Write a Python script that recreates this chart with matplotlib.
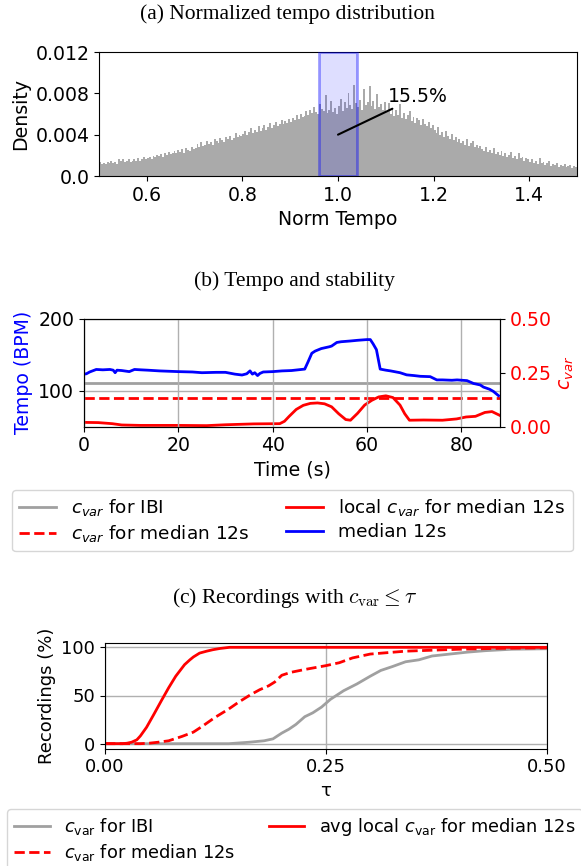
import numpy as np
import matplotlib
matplotlib.use("Agg")
import matplotlib.pyplot as plt

# ---------------- data ----------------
# (a) histogram of normalized tempo: 250 bins over [0.5, 1.5], density in units of 1e-3
hist_lo, hist_hi = 0.5, 1.5
hist_density_e3 = [
    1.4, 1.2, 1.3, 1.2, 1.4, 1.3, 1.5, 1.3, 1.4, 1.2, 1.6, 1.5, 1.6, 1.4, 1.5, 1.6, 1.4, 1.5, 1.6, 1.5, 1.7, 1.5, 1.6, 1.8, 1.6,
    1.7, 1.8, 1.6, 1.9, 1.8, 2.0, 1.9, 2.1, 1.8, 2.2, 2.0, 2.3, 2.1, 2.2, 2.4, 2.2, 2.5, 2.3, 2.6, 2.2, 2.7, 2.5, 2.4, 2.8, 2.6,
    2.7, 3.1, 2.8, 3.3, 2.9, 3.0, 3.4, 3.1, 3.3, 3.0, 3.6, 3.4, 3.2, 3.7, 3.5, 3.3, 3.8, 3.6, 3.9, 3.5, 3.7, 4.2, 3.8, 4.0, 3.9,
    4.1, 4.4, 4.0, 4.3, 4.6, 4.2, 4.5, 4.3, 4.8, 4.4, 4.6, 4.9, 4.5, 4.7, 5.1, 4.6, 4.9, 5.2, 4.8, 5.0, 5.4, 5.0, 5.3, 5.1, 5.5,
    5.2, 5.6, 5.4, 5.9, 5.5, 6.0, 5.7, 5.8, 6.3, 5.9, 6.4, 6.1, 6.7, 6.2, 6.0, 7.0, 6.5, 6.3, 7.8, 6.1, 6.4, 7.3, 6.2, 6.6, 6.0,
    6.8, 7.5, 6.3, 7.2, 6.6, 8.0, 6.9, 6.5, 8.8, 7.1, 6.7, 7.4, 6.4, 8.4, 6.9, 7.2, 8.7, 6.8, 7.3, 6.5, 7.9, 6.7, 7.0, 6.4, 7.2,
    6.3, 7.1, 6.0, 6.6, 5.8, 6.4, 5.9, 7.0, 5.6, 6.1, 5.5, 5.9, 6.3, 5.3, 5.7, 5.1, 5.6, 5.4, 4.9, 5.5, 5.0, 4.8, 5.2, 4.6, 4.9,
    4.5, 4.2, 4.7, 4.0, 4.3, 3.8, 4.4, 3.9, 3.6, 4.1, 3.5, 3.8, 3.3, 3.6, 3.2, 3.4, 3.0, 3.6, 2.9, 3.2, 3.4, 2.8, 3.0, 2.7, 2.9,
    2.6, 2.4, 2.8, 2.3, 2.5, 2.2, 2.7, 2.1, 2.3, 2.0, 2.4, 1.9, 2.2, 1.8, 2.0, 2.3, 1.7, 1.9, 1.6, 2.2, 1.7, 1.8, 1.5, 1.7, 1.6,
    1.4, 1.6, 1.3, 1.5, 1.2, 1.7, 1.3, 1.4, 1.1, 1.3, 1.5, 1.0, 1.2, 1.1, 1.3, 0.9, 1.1, 1.0, 1.2, 0.9, 1.0, 1.1, 0.8, 1.0, 0.9,
]
span_lo, span_hi = 0.96, 1.04
span_label = "15.5%"

# (b) tempo and stability over time
tempo_time = [0, 0.5, 1.2, 2, 2.6, 4, 5.5, 6.2, 6.6, 7, 8, 9.6, 10.7, 12, 13.5, 16, 18, 20, 23, 25, 28, 30, 32,
              33.5, 34.5, 35.2, 35.7, 36.2, 36.8, 37.3, 38, 40, 42, 44, 46.8, 47.5, 48.3, 49, 50.3, 52, 52.5,
              53.6, 54.5, 56.4, 58, 60, 60.7, 61.3, 62, 62.8, 64, 65, 67, 68.4, 70, 71.3, 73.4, 74.8, 76, 78,
              79.1, 81.2, 82.6, 84, 84.7, 86, 86.8, 87.9]
tempo_bpm = [123, 123.5, 126, 128, 129.5, 129, 129.5, 128.5, 125, 128.5, 128, 126.5, 129.5, 129, 128.5, 127.5,
             127, 126.5, 126, 125, 125.5, 125.5, 123, 121.8, 123.5, 127.5, 123, 125, 121, 124, 126, 126.5, 127.5,
             128, 130, 140, 152, 155, 158.5, 161, 162, 167, 168, 169, 170, 171, 171, 165, 157, 130, 128.5, 127.5,
             125, 122, 121, 120, 119.5, 115, 115, 114.5, 115, 114, 110, 108, 105, 102, 99, 93]
local_time = [0, 3, 6, 8, 12, 20, 26, 30, 36, 41.5, 42.5, 43.5, 45, 46.5, 48, 49.5, 51, 52.5, 54, 55.5, 56.5, 58,
              59.5, 61, 62.5, 64, 65.5, 67, 68, 69, 72, 76, 79, 81, 83, 85, 86.5, 88.2]
local_cvar = [0.020, 0.019, 0.014, 0.008, 0.006, 0.006, 0.005, 0.009, 0.013, 0.014, 0.025, 0.048, 0.080, 0.099,
              0.108, 0.110, 0.106, 0.092, 0.060, 0.033, 0.030, 0.062, 0.100, 0.122, 0.138, 0.143, 0.135, 0.100,
              0.060, 0.030, 0.031, 0.030, 0.036, 0.045, 0.048, 0.066, 0.070, 0.052]
cvar_ibi = 0.201
cvar_median = 0.131
time_max = 88.2

# (c) recordings with cvar <= tau
tau_local = [0, 0.02, 0.025, 0.03, 0.036, 0.04, 0.047, 0.055, 0.064, 0.072, 0.08, 0.085, 0.09, 0.096, 0.1,
             0.107, 0.115, 0.122, 0.13, 0.141, 0.2, 0.5]
rec_local = [0, 0, 0.5, 1.5, 4, 8, 17, 30, 45, 58, 70, 76, 82, 87, 90, 94, 96, 97.5, 98.8, 100, 100, 100]
tau_median = [0, 0.04, 0.05, 0.06, 0.072, 0.087, 0.1, 0.11, 0.124, 0.14, 0.151, 0.165, 0.175, 0.185, 0.192,
              0.2, 0.21, 0.226, 0.25, 0.265, 0.28, 0.3, 0.34, 0.4, 0.45, 0.5]
rec_median = [0, 0, 0.5, 1.5, 3, 7.5, 12, 18, 27, 36, 43, 51, 56, 60, 64, 71, 74, 77, 81, 84, 89, 93, 96, 98, 99, 99.5]
tau_ibi = [0, 0.14, 0.163, 0.18, 0.19, 0.2, 0.208, 0.216, 0.226, 0.235, 0.245, 0.255, 0.27, 0.285, 0.3, 0.312,
           0.325, 0.34, 0.355, 0.37, 0.39, 0.41, 0.43, 0.46, 0.5]
rec_ibi = [0, 0, 1.5, 3, 5, 11, 15, 20, 28, 32, 38, 46, 55, 62, 70, 76, 80, 85, 87, 91, 93, 95, 96.5, 98, 98.5]

# ---------------- figure ----------------
plt.rcParams['font.family'] = ['DejaVu Sans']
FSA = 13.6   # panel (a)
FSB = 13.6   # panel (b)
FSC = 13     # panel (c)
FSL = 13.3   # legend (b)
FSLC = 12.8  # legend (c)
FST = 15.5   # serif captions
W, H = 581, 866
fig = plt.figure(figsize=(W / 100, H / 100), dpi=100)

def box(l, r, t, b):
    return [l / W, 1 - b / H, (r - l) / W, (b - t) / H]

serif = ['Liberation Serif', 'DejaVu Serif']
GRAY = '#a0a0a0'

# ---- (a) ----
axa = fig.add_axes(box(99, 577, 52, 176))
edges = np.linspace(hist_lo, hist_hi, len(hist_density_e3) + 1)
dens = np.array(hist_density_e3) * 1e-3
axa.bar(edges[:-1], dens, width=np.diff(edges), align='edge', color='#aaaaaa', linewidth=0)
axa.axvspan(span_lo, span_hi, facecolor=(0, 0, 1, 0.13), edgecolor=(0, 0, 1, 0.38), linewidth=2, zorder=3)
axa.annotate(span_label, xy=(1.0, 0.004), xytext=(1.105, 0.0077), fontsize=FSA,
             va='center', ha='left',
             arrowprops=dict(arrowstyle='-', color='black', lw=1.5, shrinkA=0, shrinkB=0), zorder=5)
axa.set_xlim(0.5, 1.5)
axa.set_ylim(0, 0.012)
axa.set_yticks([0.0, 0.004, 0.008, 0.012])
axa.set_yticklabels(['0.0', '0.004', '0.008', '0.012'])
axa.set_xticks([0.6, 0.8, 1.0, 1.2, 1.4])
axa.tick_params(labelsize=FSA)
axa.set_xlabel('Norm Tempo', fontsize=FSA)
axa.set_ylabel('Density', fontsize=FSA)
fig.text(0.495, 1 - 14 / H, '(a) Normalized tempo distribution', ha='center', va='center',
         family=serif, fontsize=FST)

# ---- (b) ----
axb = fig.add_axes(box(84, 500, 318.7, 426.7))
axb2 = axb.twinx()
hb_blue, = axb.plot(tempo_time, tempo_bpm, color='blue', lw=2, label='median 12s')
axb.set_xlim(0, time_max)
axb.set_ylim(50, 200)
axb.set_yticks([100, 200])
axb.set_xticks([0, 20, 40, 60, 80])
axb.grid(True, color='#b0b0b0', lw=1)
axb.tick_params(labelsize=FSB)
axb.set_xlabel('Time (s)', fontsize=FSB)
axb.set_ylabel('Tempo (BPM)', color='blue', fontsize=FSB)
hb_ibi = axb2.axhline(cvar_ibi, color=GRAY, lw=2, label='$c_{var}$ for IBI')
hb_med = axb2.axhline(cvar_median, color='red', lw=2, ls='--', label='$c_{var}$ for median 12s')
hb_loc, = axb2.plot(local_time, local_cvar, color='red', lw=2, label='local $c_{var}$ for median 12s')
axb2.set_ylim(0, 0.5)
axb2.set_yticks([0.0, 0.25, 0.5])
axb2.tick_params(labelsize=FSB, colors='red', axis='y')
axb2.tick_params(axis='y', color='black')
axb2.set_ylabel('$c_{var}$', color='red', fontsize=FSB)
axb.set_zorder(axb2.get_zorder() + 1)
axb.patch.set_visible(False)
fig.text(0.507, 1 - 281.5 / H, '(b) Tempo and stability', ha='center', va='center',
         family=serif, fontsize=FST)
fig.legend(handles=[hb_ibi, hb_med, hb_loc, hb_blue], ncol=2, fontsize=FSL,
           loc='upper left', bbox_to_anchor=(12 / W, 1 - 490 / H),
           bbox_transform=fig.transFigure, handlelength=2.0,
           borderaxespad=0, labelspacing=0.25, columnspacing=2.0)

# ---- (c) ----
axc = fig.add_axes(box(105, 547, 642.5, 748.5))
hc_ibi, = axc.plot(tau_ibi, rec_ibi, color=GRAY, lw=2, label=r'$c_{\rm var}$ for IBI')
hc_med, = axc.plot(tau_median, rec_median, color='red', lw=2, ls='--', label=r'$c_{\rm var}$ for median 12s')
hc_loc, = axc.plot(tau_local, rec_local, color='red', lw=2, label=r'avg local $c_{\rm var}$ for median 12s')
axc.set_xlim(0, 0.5)
axc.set_ylim(-5, 105)
axc.set_xticks([0.0, 0.25, 0.5])
axc.set_xticklabels(['0.00', '0.25', '0.50'])
axc.set_yticks([0, 50, 100])
axc.grid(True, color='#b0b0b0', lw=1)
axc.tick_params(labelsize=FSC)
axc.set_xlabel('τ', fontsize=FSC)
axc.set_ylabel('Recordings (%)', fontsize=FSC)
fig.text(0.507, 1 - 598 / H, r'(c) Recordings with $c_{\mathrm{var}} \leq \tau$', ha='center', va='center',
         family=serif, fontsize=FST, math_fontfamily='cm')
fig.legend(handles=[hc_ibi, hc_med, hc_loc], ncol=2, fontsize=FSLC,
           loc='upper left', bbox_to_anchor=(7 / W, 1 - 809 / H),
           bbox_transform=fig.transFigure, handlelength=2.0, borderaxespad=0,
           columnspacing=1.9, labelspacing=0.3)

fig.savefig('out.png', dpi=100)
